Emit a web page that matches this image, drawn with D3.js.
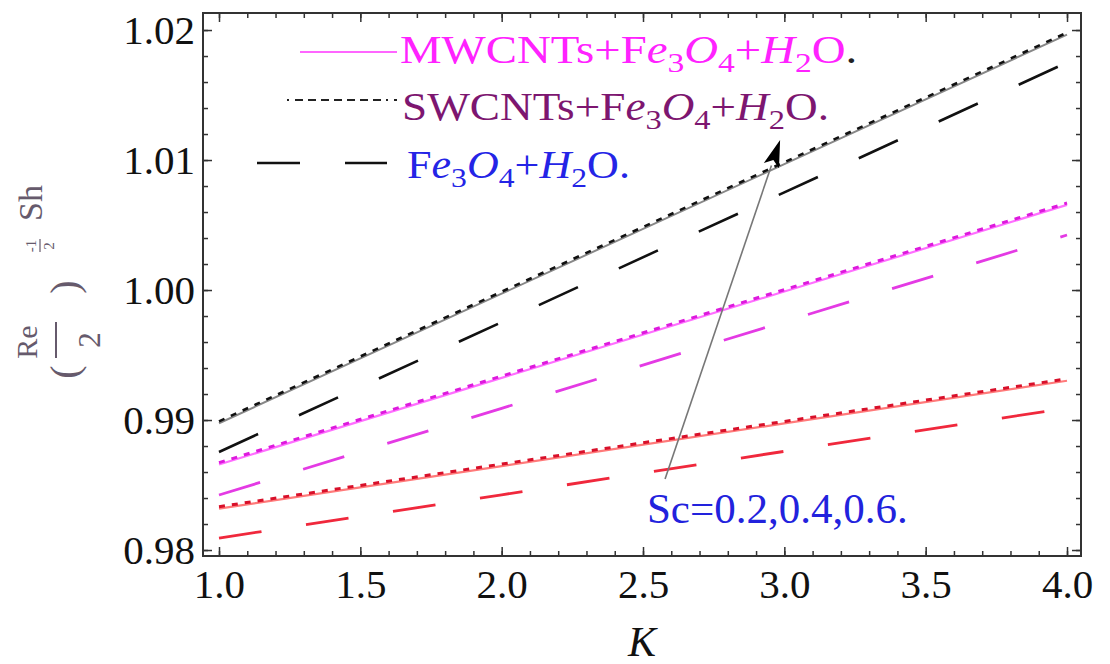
<!DOCTYPE html>
<html lang="en">
<head>
    <meta charset="UTF-8">
    <title>Sh vs K</title>
    <script src="https://d3js.org/d3.v7.min.js"></script>
    <style>
        body { margin: 0; background: #fff; }
        svg { display: block; font-family: "Liberation Serif", "Times New Roman", serif; }
    </style>
</head>
<body>
    <svg width="1110" height="664"></svg>
    <script>
        // K values where the curves were read
        const kValues = [1, 2, 3, 4];

        // Sc = 0.2 (red)
        const redMW = [0.98318, 0.98646, 0.98974, 0.99302];
        const redSW = [0.98333, 0.98661, 0.98989, 0.99317];
        const redFe = [0.98092, 0.98425, 0.98759, 0.99092];
        // Sc = 0.4 (magenta)
        const magMW = [0.98658, 0.99324, 0.99989, 1.00655];
        const magSW = [0.98672, 0.99338, 1.00003, 1.00669];
        const magFe = [0.98423, 0.99090, 0.99756, 1.00423];
        // Sc = 0.6 (black)
        const blkMW = [0.98975, 0.99972, 1.00968, 1.01965];
        const blkSW = [0.98990, 0.99987, 1.00983, 1.01980];
        const blkFe = [0.98754, 0.99753, 1.00751, 1.01750];

        const xTicks = [1.0, 1.5, 2.0, 2.5, 3.0, 3.5, 4.0];
        const yTicks = [0.98, 0.99, 1.00, 1.01, 1.02];

        // arrow annotation (K, value) and label
        const arrowFrom = [2.578, 0.98546];
        const arrowTo = [2.985, 1.01154];
        const scLabelPos = [2.514, 0.98208];

        const svg = d3.select("svg");
        const pLeft = 203, pRight = 1081, pTop = 13, pBottom = 556;

        const x = d3.scaleLinear().domain([0.9434, 4.0495]).range([pLeft, pRight]);
        const y = d3.scaleLinear().domain([0.97954, 1.02131]).range([pBottom, pTop]);

        svg.append("rect").attr("width", 1110).attr("height", 664).attr("fill", "#fff");

        svg.append("clipPath").attr("id", "plot")
            .append("rect").attr("x", pLeft).attr("y", pTop)
            .attr("width", pRight - pLeft).attr("height", pBottom - pTop);

        // curves: dashed first, solid, then dotted on top
        const series = [
            { v: redFe, color: "#f0283c", dash: "43,45", w: 2.8 },
            { v: magFe, color: "#e43ae4", dash: "43,45", w: 2.8 },
            { v: blkFe, color: "#111", dash: "43,45", w: 2.6 },
            { v: redMW, color: "#ff7a7a", dash: null, w: 2.2 },
            { v: magMW, color: "#ff70ff", dash: null, w: 2.2 },
            { v: blkMW, color: "#888", dash: null, w: 2.0 },
            { v: redSW, color: "#d8102a", dash: "6,7", w: 3 },
            { v: magSW, color: "#dd1add", dash: "6,7", w: 3 },
            { v: blkSW, color: "#111", dash: "6,7", w: 2.6 }
        ];

        const line = d3.line().x(d => x(d[0])).y(d => y(d[1]));

        const curves = svg.append("g").attr("clip-path", "url(#plot)");
        series.forEach(s => {
            curves.append("path")
                .attr("d", line(kValues.map((k, i) => [k, s.v[i]])))
                .attr("fill", "none")
                .attr("stroke", s.color)
                .attr("stroke-width", s.w)
                .attr("stroke-dasharray", s.dash);
        });

        // frame axes, ticks point inwards on all four sides
        const xMinor = d3.range(10, 41).map(i => i / 10);
        const yMinor = d3.range(490, 511).map(i => i / 500);

        function styleAxis(g) {
            g.select(".domain").remove();
            g.selectAll("line").attr("stroke", "#333").attr("stroke-width", 1.5);
            g.selectAll("text").attr("fill", "#111").attr("font-size", 41)
                .attr("font-family", "Liberation Serif, serif");
        }

        svg.append("g").attr("transform", `translate(0,${pBottom})`)
            .call(d3.axisBottom(x).tickValues(xMinor).tickSize(-5).tickFormat(""))
            .call(styleAxis);
        svg.append("g").attr("transform", `translate(0,${pBottom})`)
            .call(d3.axisBottom(x).tickValues(xTicks).tickSize(-9).tickPadding(13).tickFormat(d3.format(".1f")))
            .call(styleAxis);
        svg.append("g").attr("transform", `translate(0,${pTop})`)
            .call(d3.axisTop(x).tickValues(xMinor).tickSize(-5).tickFormat(""))
            .call(styleAxis);
        svg.append("g").attr("transform", `translate(0,${pTop})`)
            .call(d3.axisTop(x).tickValues(xTicks).tickSize(-9).tickFormat(""))
            .call(styleAxis);

        svg.append("g").attr("transform", `translate(${pLeft},0)`)
            .call(d3.axisLeft(y).tickValues(yMinor).tickSize(-5).tickFormat(""))
            .call(styleAxis);
        svg.append("g").attr("transform", `translate(${pLeft},0)`)
            .call(d3.axisLeft(y).tickValues(yTicks).tickSize(-9).tickPadding(8).tickFormat(d3.format(".2f")))
            .call(styleAxis);
        svg.append("g").attr("transform", `translate(${pRight},0)`)
            .call(d3.axisRight(y).tickValues(yMinor).tickSize(-5).tickFormat(""))
            .call(styleAxis);
        svg.append("g").attr("transform", `translate(${pRight},0)`)
            .call(d3.axisRight(y).tickValues(yTicks).tickSize(-9).tickFormat(""))
            .call(styleAxis);

        svg.append("rect")
            .attr("x", pLeft).attr("y", pTop)
            .attr("width", pRight - pLeft).attr("height", pBottom - pTop)
            .attr("fill", "none").attr("stroke", "#333").attr("stroke-width", 2);

        // x label
        svg.append("text")
            .attr("x", (pLeft + pRight) / 2).attr("y", 656)
            .attr("text-anchor", "middle")
            .attr("font-size", 42).attr("font-style", "italic").attr("fill", "#111")
            .text("K");

        // y label: (Re/2)^(-1/2) Sh, rotated
        const yl = svg.append("g").attr("fill", "#665a6c");
        function rot(px, py, txt, size) {
            return yl.append("g")
                .attr("transform", `translate(${px},${py}) rotate(-90)`)
                .append("text")
                .attr("text-anchor", "middle")
                .style("font-size", size + "px")
                .text(txt);
        }
        rot(78, 372, "(", 40);
        rot(37, 342, "Re", 30);
        rot(100, 340, "2", 31);
        yl.append("line").attr("x1", 56).attr("x2", 56).attr("y1", 322).attr("y2", 358)
            .attr("stroke", "#665a6c").attr("stroke-width", 2);
        rot(78, 287, ")", 40);
        rot(36, 246, "-1", 15);
        yl.append("line").attr("x1", 40).attr("x2", 40).attr("y1", 239).attr("y2", 252)
            .attr("stroke", "#665a6c").attr("stroke-width", 1.2);
        rot(54, 246, "2", 15);
        rot(42, 203, "Sh", 34);

        // legend
        const formula = [
            ["+F", null], ["e", "i"], ["3", "s"], ["O", "i"], ["4", "s"],
            ["+", null], ["H", "i"], ["2", "s"], ["O", null]
        ];
        const legendItems = [
            { label: "MWCNTs", lead: true, color: "#ff22ff", dot: "#222", y: 63, tx: 400, sx: 1.2,
              x0: 300, x1: 397, ly: 52, stroke: "#ff66ff", dash: null, w: 2 },
            { label: "SWCNTs", lead: true, color: "#7d1670", dot: "#7d1670", y: 120, tx: 402, sx: 1.16,
              x0: 287, x1: 397, ly: 100, stroke: "#222", dash: "2,6,8,5,8,5,8,5,8,5,8,5,8,5,8,5", w: 2.2 },
            { label: "", lead: false, color: "#2424e6", dot: "#2424e6", y: 178, tx: 407, sx: 1.13,
              x0: 257, x1: 387, ly: 163, stroke: "#111", dash: "43,45", w: 2.6 }
        ];
        const leg = svg.append("g");
        legendItems.forEach(it => {
            leg.append("line")
                .attr("x1", it.x0).attr("x2", it.x1).attr("y1", it.ly).attr("y2", it.ly)
                .attr("stroke", it.stroke).attr("stroke-width", it.w)
                .attr("stroke-dasharray", it.dash);
            const t = leg.append("text")
                .attr("transform", `translate(${it.tx},${it.y}) scale(${it.sx},1)`)
                .attr("font-size", 39).attr("fill", it.color);
            const parts = it.lead ? [[it.label + "+F", null]].concat(formula.slice(1)) : [["F", null]].concat(formula.slice(1));
            let shifted = false;
            parts.forEach(p => {
                const sp = t.append("tspan").text(p[0]);
                if (p[1] === "i") sp.attr("font-style", "italic");
                if (p[1] === "s") {
                    sp.attr("font-size", 28).attr("dy", 9);
                    shifted = true;
                } else if (shifted) {
                    sp.attr("dy", -9);
                    shifted = false;
                }
            });
            t.append("tspan").text(".").attr("fill", it.dot);
        });

        // arrow
        const ax0 = x(arrowFrom[0]), ay0 = y(arrowFrom[1]);
        const ax1 = x(arrowTo[0]), ay1 = y(arrowTo[1]);
        const len = Math.hypot(ax1 - ax0, ay1 - ay0);
        const ux = (ax1 - ax0) / len, uy = (ay1 - ay0) / len;
        const headL = 27, headW = 8;
        const bx = ax1 - ux * headL, by = ay1 - uy * headL;
        svg.append("line")
            .attr("x1", ax0).attr("y1", ay0).attr("x2", bx).attr("y2", by)
            .attr("stroke", "#777").attr("stroke-width", 1.6);
        svg.append("path")
            .attr("d", `M${ax1},${ay1}L${bx - uy * headW},${by + ux * headW}L${bx + ux * 6},${by + uy * 6}L${bx + uy * headW},${by - ux * headW}Z`)
            .attr("fill", "#000");

        svg.append("text")
            .attr("x", x(scLabelPos[0])).attr("y", y(scLabelPos[1]))
            .attr("font-size", 43).attr("fill", "#2222dd")
            .text("Sc=0.2,0.4,0.6.");
    </script>
</body>
</html>
